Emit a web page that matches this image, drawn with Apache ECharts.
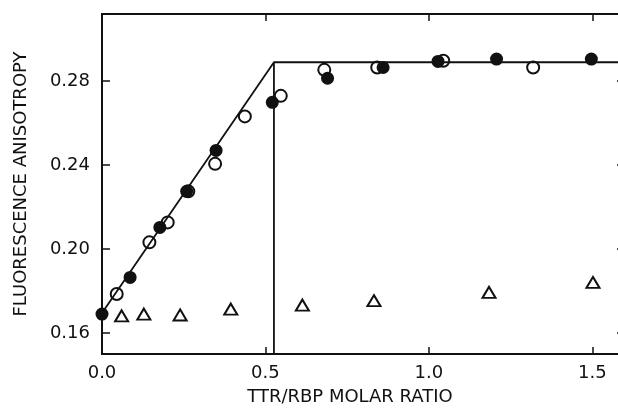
<!DOCTYPE html>
<html>
<head>
<meta charset="utf-8">
<script src="https://cdn.jsdelivr.net/npm/echarts@6/dist/echarts.min.js"></script>
<style>
html,body{margin:0;padding:0;background:#fff;}
#chart{width:618px;height:409px;}
</style>
</head>
<body>
<div id="chart"></div>
<script>
// Filled circles
const filledX = [0.000, 0.086, 0.177, 0.259, 0.349, 0.521, 0.690, 0.860, 1.028, 1.207, 1.497];
const filledY = [0.1690, 0.1865, 0.2103, 0.2275, 0.2470, 0.2699, 0.2814, 0.2865, 0.2894, 0.2905, 0.2905];
// Open circles
const openX = [0.045, 0.145, 0.201, 0.264, 0.346, 0.437, 0.547, 0.680, 0.842, 1.044, 1.319];
const openY = [0.1786, 0.2032, 0.2127, 0.2275, 0.2406, 0.2632, 0.2730, 0.2854, 0.2865, 0.2897, 0.2865];
// Open triangles
const triX = [0.060, 0.128, 0.239, 0.394, 0.613, 0.832, 1.184, 1.502];
const triY = [0.1682, 0.1690, 0.1686, 0.1714, 0.1733, 0.1754, 0.1794, 0.1841];
// Fitted lines
const fitX = [0.000, 0.526, 1.600];
const fitY = [0.1695, 0.2890, 0.2890];
const dropX = [0.526, 0.526];
const dropY = [0.150, 0.2890];
// Ticks
const xTicks = [0.0, 0.5, 1.0, 1.5];
const yTicks = [0.16, 0.20, 0.24, 0.28];

const zip = (a, b) => a.map((v, i) => [v, b[i]]);
const ink = '#111';
const font = 'DejaVu Sans';

const xBase = {
  type: 'value', min: 0, max: 1.6,
  splitLine: {show: false},
  axisLine: {show: true, onZero: false, lineStyle: {color: ink, width: 2}},
  axisTick: {show: true, inside: true, length: 7, customValues: [0.5, 1.0, 1.5], lineStyle: {color: ink, width: 1.5}}
};
const yBase = {
  type: 'value', min: 0.15, max: 0.312,
  splitLine: {show: false},
  axisLine: {show: true, onZero: false, lineStyle: {color: ink, width: 2}},
  axisTick: {show: true, inside: true, length: 8, customValues: yTicks, lineStyle: {color: ink, width: 1.5}}
};

const chart = echarts.init(document.getElementById('chart'), null, {renderer: 'canvas'});
chart.setOption({
  backgroundColor: '#fff',
  animation: false,
  grid: {left: 102, top: 14, width: 523, height: 340, containLabel: false, outerBoundsMode: 'none'},
  xAxis: [
    Object.assign({}, xBase, {
      position: 'bottom',
      name: 'TTR/RBP MOLAR RATIO', nameLocation: 'middle', nameGap: 34,
      nameTextStyle: {fontFamily: font, fontSize: 18, color: ink, padding: [0, 27, 0, 0]},
      axisLabel: {show: true, margin: 10, customValues: xTicks, fontFamily: font, fontSize: 18, color: ink,
        formatter: v => v.toFixed(1)}
    }),
    Object.assign({}, xBase, {position: 'top', axisLabel: {show: false}})
  ],
  yAxis: [
    Object.assign({}, yBase, {
      position: 'left',
      name: 'FLUORESCENCE ANISOTROPY', nameLocation: 'middle', nameGap: 72, nameRotate: 90,
      nameTextStyle: {fontFamily: font, fontSize: 18, color: ink},
      axisLabel: {show: true, margin: 12, customValues: yTicks, fontFamily: font, fontSize: 18, color: ink,
        formatter: v => v.toFixed(2)}
    }),
    Object.assign({}, yBase, {position: 'right', axisLabel: {show: false}})
  ],
  series: [
    {type: 'line', data: zip(fitX, fitY), symbol: 'none', lineStyle: {color: ink, width: 1.8}, z: 2},
    {type: 'line', data: zip(dropX, dropY), symbol: 'none', lineStyle: {color: ink, width: 1.8}, z: 2},
    {type: 'scatter', data: zip(triX, triY), symbol: 'triangle', symbolSize: [13, 11],
      itemStyle: {color: 'rgba(255,255,255,0)', borderColor: ink, borderWidth: 2, opacity: 1}, z: 3},
    {type: 'scatter', data: zip(openX, openY), symbol: 'circle', symbolSize: 12,
      itemStyle: {color: 'rgba(255,255,255,0)', borderColor: ink, borderWidth: 2, opacity: 1}, z: 3},
    {type: 'scatter', data: zip(filledX, filledY), symbol: 'circle', symbolSize: 13,
      itemStyle: {color: ink, borderColor: ink, borderWidth: 0, opacity: 1}, z: 4}
  ]
});
</script>
</body>
</html>
